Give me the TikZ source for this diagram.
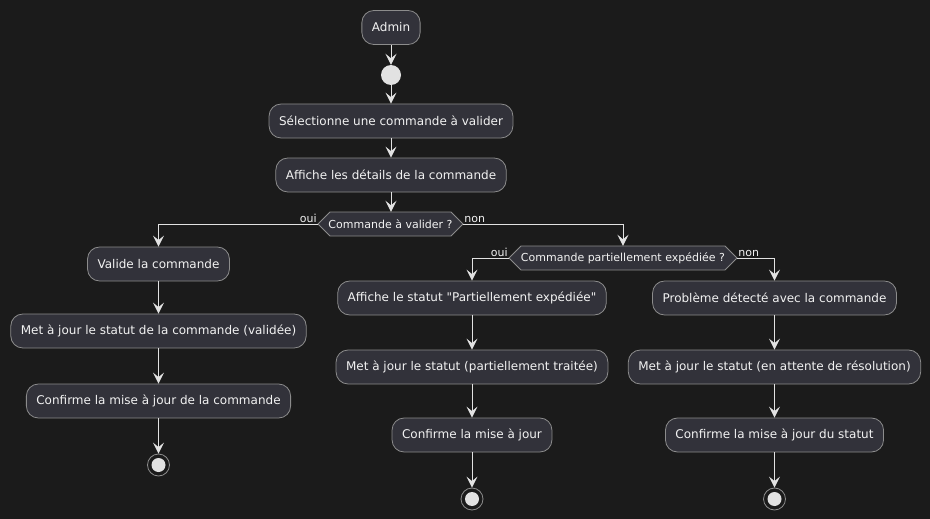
\documentclass[tikz,border=0pt]{standalone}
\usepackage{fontspec}
\setmainfont{DejaVu Sans}
\usetikzlibrary{arrows.meta}
\definecolor{bgcol}{HTML}{1B1B1B}
\definecolor{boxfill}{HTML}{32323A}
\definecolor{boxline}{HTML}{8C8C8C}
\definecolor{txtcol}{HTML}{F2F2F2}
\definecolor{flowcol}{HTML}{E2E2E2}
\tikzset{
  action/.style={draw=boxline, fill=boxfill, rounded corners=12pt, line width=0.8pt,
    text=txtcol, font=\fontsize{12pt}{14pt}\selectfont, inner xsep=10pt, inner ysep=0pt,
    minimum height=34pt},
  decision/.style={inner sep=0pt, minimum height=24pt, text=txtcol,
    font=\fontsize{11pt}{13pt}\selectfont},
  hexa/.style={draw=boxline, fill=boxfill, line width=0.8pt},
  lbl/.style={text=txtcol, font=\fontsize{11pt}{13pt}\selectfont, inner sep=1pt},
  startdot/.style={circle, fill=flowcol, minimum size=20pt, inner sep=0pt},
  stopring/.style={circle, draw=boxline, line width=0.8pt, minimum size=22pt, inner sep=0pt,
    path picture={\fill[flowcol] (path picture bounding box.center) circle (7pt);}},
  flow/.style={draw=flowcol, line width=1pt,
    -{Stealth[length=11pt 0 0, width=11pt 0 0, inset=4.5pt 0 0]}},
}
\begin{document}
\begin{tikzpicture}[x=1pt, y=-1pt]
\fill[bgcol] (0,0) rectangle (930,519);
\useasboundingbox (0,0) rectangle (930,519);

% hexagonal decision outlines
\path[hexa] (318,224) -- (330,212) -- (451,212) -- (463,224) -- (451,236) -- (330,236) -- cycle;
\path[hexa] (509,258) -- (521,246) -- (725,246) -- (737,258) -- (725,270) -- (521,270) -- cycle;

% main column
\node[action] (admin) at (391,27.5) {Admin};
\node[startdot] (start) at (391,75) {};
\node[action] (select) at (391,121) {Sélectionne une commande à valider};
\node[action] (details) at (391,175) {Affiche les détails de la commande};
\node[decision, minimum width=145pt] (d1) at (390.5,224) {Commande à valider ?};

% validated branch
\node[action] (valide) at (158.5,264) {Valide la commande};
\node[action] (majv) at (158.5,331) {Met à jour le statut de la commande (validée)};
\node[action] (confv) at (158.5,401) {Confirme la mise à jour de la commande};
\node[stopring] (endv) at (158.5,465) {};

% second decision
\node[decision, minimum width=228pt] (d2) at (623,258) {Commande partiellement expédiée ?};

% partially shipped branch
\node[action] (partiel) at (472,298) {Affiche le statut \textquotedbl Partiellement expédiée\textquotedbl};
\node[action] (majp) at (472,367) {Met à jour le statut (partiellement traitée)};
\node[action] (confp) at (472,435) {Confirme la mise à jour};
\node[stopring] (endp) at (472,499) {};

% problem branch
\node[action] (probleme) at (774.5,298) {Problème détecté avec la commande};
\node[action] (maje) at (774.5,367) {Met à jour le statut (en attente de résolution)};
\node[action] (confe) at (774.5,435) {Confirme la mise à jour du statut};
\node[stopring] (ende) at (774.5,499) {};

% connectors
\draw[flow] (admin) -- (start);
\draw[flow] (start) -- (select);
\draw[flow] (select) -- (details);
\draw[flow] (details) -- (d1.north -| details);
\draw[flow] (d1.west) -| (valide.north);
\draw[flow] (d1.east) -| (d2.north);
\draw[flow] (valide) -- (majv);
\draw[flow] (majv) -- (confv);
\draw[flow] (confv.south) -- (endv.north);
\draw[flow] (d2.west) -| (partiel.north);
\draw[flow] (d2.east) -| (probleme.north);
\draw[flow] (partiel) -- (majp);
\draw[flow] (majp) -- (confp);
\draw[flow] (confp.south) -- (endp.north);
\draw[flow] (probleme) -- (maje);
\draw[flow] (maje) -- (confe);
\draw[flow] (confe.south) -- (ende.north);

% branch labels
\node[lbl, anchor=south east] (oui1) at (d1.west) {oui};
\node[lbl, anchor=south west] (non1) at (d1.east) {non};
\node[lbl, anchor=south east] (oui2) at (d2.west) {oui};
\node[lbl, anchor=south west] (non2) at (d2.east) {non};
\end{tikzpicture}
\end{document}
